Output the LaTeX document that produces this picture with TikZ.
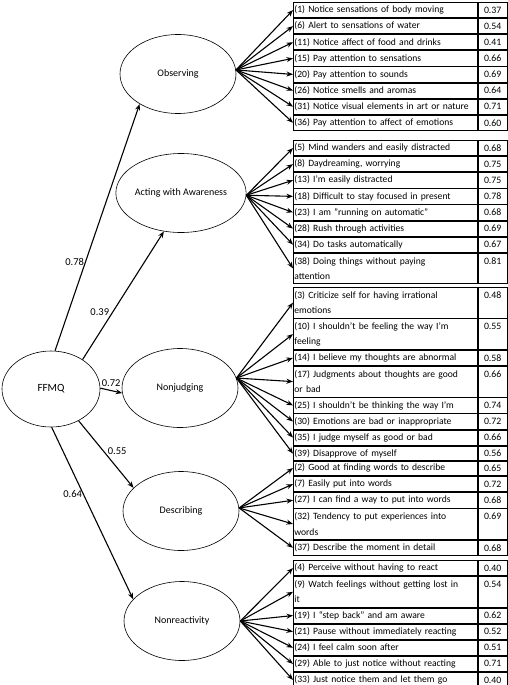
\documentclass[tikz,border=0pt]{standalone}
\usepackage{fontspec}
\setmainfont{Carlito}
\usetikzlibrary{shapes.geometric,arrows.meta}

\tikzset{
  factor/.style={draw, ellipse, line width=0.6pt, minimum width=116pt, minimum height=79pt, inner sep=0pt, font=\fontsize{10}{12}\selectfont},
  itembox/.style={draw, line width=0.8pt, anchor=north west, text width=182pt, inner xsep=1pt, inner ysep=0pt, align=left, minimum height=15.3pt, font=\fontsize{9.6}{15.3}\selectfont},
  valbox/.style={draw, line width=0.8pt, anchor=north west, text width=27pt, inner xsep=1pt, inner ysep=0pt, align=center, minimum height=15.3pt, font=\fontsize{9.8}{15.3}\selectfont},
  two/.style={minimum height=30.6pt},
  load/.style={-{Stealth[length=6.5pt,width=5pt]}, line width=1.1pt},
  coef/.style={font=\fontsize{10.5}{12}\selectfont, inner sep=1pt}
}

\begin{document}
\begin{tikzpicture}[x=1pt,y=-1pt]

\useasboundingbox (0,0) rectangle (507,685);

% factors
\node[factor, minimum width=98pt, minimum height=76pt, font=\fontsize{11}{13}\selectfont] (ffmq) at (51,389) {FFMQ};
\node[factor] (obs) at (178,74) {Observing};
\node[factor] (act) at (181,193) {Acting with Awareness};
\node[factor] (nonj) at (180,388) {Nonjudging};
\node[factor] (desc) at (181,511) {Describing};
\node[factor] (nonr) at (182,621) {Nonreactivity};

% Observing items
\node[itembox] (obs1) at (293,2) {(1) Notice sensations of body moving};
\node[itembox] (obs2) at (obs1.south west) {(6) Alert to sensations of water};
\node[itembox] (obs3) at (obs2.south west) {(11) Notice affect of food and drinks};
\node[itembox] (obs4) at (obs3.south west) {(15) Pay attention to sensations};
\node[itembox] (obs5) at (obs4.south west) {(20) Pay attention to sounds};
\node[itembox] (obs6) at (obs5.south west) {(26) Notice smells and aromas};
\node[itembox] (obs7) at (obs6.south west) {(31) Notice visual elements in art or nature};
\node[itembox] (obs8) at (obs7.south west) {(36) Pay attention to affect of emotions};
\node[valbox] (obsv1) at (obs1.north east) {0.37};
\node[valbox] (obsv2) at (obs2.north east) {0.54};
\node[valbox] (obsv3) at (obs3.north east) {0.41};
\node[valbox] (obsv4) at (obs4.north east) {0.66};
\node[valbox] (obsv5) at (obs5.north east) {0.69};
\node[valbox] (obsv6) at (obs6.north east) {0.64};
\node[valbox] (obsv7) at (obs7.north east) {0.71};
\node[valbox] (obsv8) at (obs8.north east) {0.60};

% Acting with Awareness items
\node[itembox] (act1) at (293,140) {(5) Mind wanders and easily distracted};
\node[itembox] (act2) at (act1.south west) {(8) Daydreaming, worrying};
\node[itembox] (act3) at (act2.south west) {(13) I’m easily distracted};
\node[itembox] (act4) at (act3.south west) {(18) Difficult to stay focused in present};
\node[itembox] (act5) at (act4.south west) {(23) I am "running on automatic"};
\node[itembox] (act6) at (act5.south west) {(28) Rush through activities};
\node[itembox] (act7) at (act6.south west) {(34) Do tasks automatically};
\node[itembox, two] (act8) at (act7.south west) {(38) Doing things without paying\\attention};
\node[valbox] (actv1) at (act1.north east) {0.68};
\node[valbox] (actv2) at (act2.north east) {0.75};
\node[valbox] (actv3) at (act3.north east) {0.75};
\node[valbox] (actv4) at (act4.north east) {0.78};
\node[valbox] (actv5) at (act5.north east) {0.68};
\node[valbox] (actv6) at (act6.north east) {0.69};
\node[valbox] (actv7) at (act7.north east) {0.67};
\node[valbox, two] (actv8) at (act8.north east) {0.81\\\mbox{}};

% Nonjudging items
\node[itembox, two] (nonj1) at (293,287) {(3) Criticize self for having irrational\\emotions};
\node[itembox, two] (nonj2) at (nonj1.south west) {(10) I shouldn’t be feeling the way I’m\\feeling};
\node[itembox] (nonj3) at (nonj2.south west) {(14) I believe my thoughts are abnormal};
\node[itembox, two] (nonj4) at (nonj3.south west) {(17) Judgments about thoughts are good\\or bad};
\node[itembox] (nonj5) at (nonj4.south west) {(25) I shouldn’t be thinking the way I’m};
\node[itembox] (nonj6) at (nonj5.south west) {(30) Emotions are bad or inappropriate};
\node[itembox] (nonj7) at (nonj6.south west) {(35) I judge myself as good or bad};
\node[itembox] (nonj8) at (nonj7.south west) {(39) Disapprove of myself};
\node[valbox, two] (nonjv1) at (nonj1.north east) {0.48\\\mbox{}};
\node[valbox, two] (nonjv2) at (nonj2.north east) {0.55\\\mbox{}};
\node[valbox] (nonjv3) at (nonj3.north east) {0.58};
\node[valbox, two] (nonjv4) at (nonj4.north east) {0.66\\\mbox{}};
\node[valbox] (nonjv5) at (nonj5.north east) {0.74};
\node[valbox] (nonjv6) at (nonj6.north east) {0.72};
\node[valbox] (nonjv7) at (nonj7.north east) {0.66};
\node[valbox] (nonjv8) at (nonj8.north east) {0.56};

% Describing items
\node[itembox] (desc1) at (293,460) {(2) Good at finding words to describe};
\node[itembox] (desc2) at (desc1.south west) {(7) Easily put into words};
\node[itembox] (desc3) at (desc2.south west) {(27) I can find a way to put into words};
\node[itembox, two] (desc4) at (desc3.south west) {(32) Tendency to put experiences into\\words};
\node[itembox] (desc5) at (desc4.south west) {(37) Describe the moment in detail};
\node[valbox] (descv1) at (desc1.north east) {0.65};
\node[valbox] (descv2) at (desc2.north east) {0.72};
\node[valbox] (descv3) at (desc3.north east) {0.68};
\node[valbox, two] (descv4) at (desc4.north east) {0.69\\\mbox{}};
\node[valbox] (descv5) at (desc5.north east) {0.68};

% Nonreactivity items
\node[itembox] (nonr1) at (293,560) {(4) Perceive without having to react};
\node[itembox, two] (nonr2) at (nonr1.south west) {(9) Watch feelings without getting lost in\\it};
\node[itembox] (nonr3) at (nonr2.south west) {(19) I “step back” and am aware};
\node[itembox] (nonr4) at (nonr3.south west) {(21) Pause without immediately reacting};
\node[itembox] (nonr5) at (nonr4.south west) {(24) I feel calm soon after};
\node[itembox] (nonr6) at (nonr5.south west) {(29) Able to just notice without reacting};
\node[itembox] (nonr7) at (nonr6.south west) {(33) Just notice them and let them go};
\node[valbox] (nonrv1) at (nonr1.north east) {0.40};
\node[valbox, two] (nonrv2) at (nonr2.north east) {0.54\\\mbox{}};
\node[valbox] (nonrv3) at (nonr3.north east) {0.62};
\node[valbox] (nonrv4) at (nonr4.north east) {0.52};
\node[valbox] (nonrv5) at (nonr5.north east) {0.51};
\node[valbox] (nonrv6) at (nonr6.north east) {0.71};
\node[valbox] (nonrv7) at (nonr7.north east) {0.40};

% paths from FFMQ
\draw[load] (ffmq.84) -- (obs.218) node[coef, pos=0.36, left] {0.78};
\draw[load] (ffmq.43) -- (act.246) node[coef, pos=0.37, left=2pt] {0.39};
\draw[load] (ffmq.1) -- (nonj.185) node[coef, pos=0.5, above=2pt] {0.72};
\draw[load] (ffmq.-49) -- (desc.154) node[coef, pos=0.45, right=3pt] {0.55};
\draw[load] (ffmq.-89) -- (nonr.156) node[coef, pos=0.39, left] {0.64};

% loadings
\foreach \i in {1,...,8} \draw[load] (obs.4) -- (obs\i.west);
\foreach \i in {1,...,8} \draw[load] (act.-2) -- (act\i.west);
\foreach \i in {1,...,8} \draw[load] (nonj.10) -- (nonj\i.west);
\foreach \i in {1,...,5} \draw[load] (desc.3) -- (desc\i.west);
\foreach \i in {1,...,7} \draw[load] (nonr.east) -- (nonr\i.west);

\end{tikzpicture}
\end{document}
